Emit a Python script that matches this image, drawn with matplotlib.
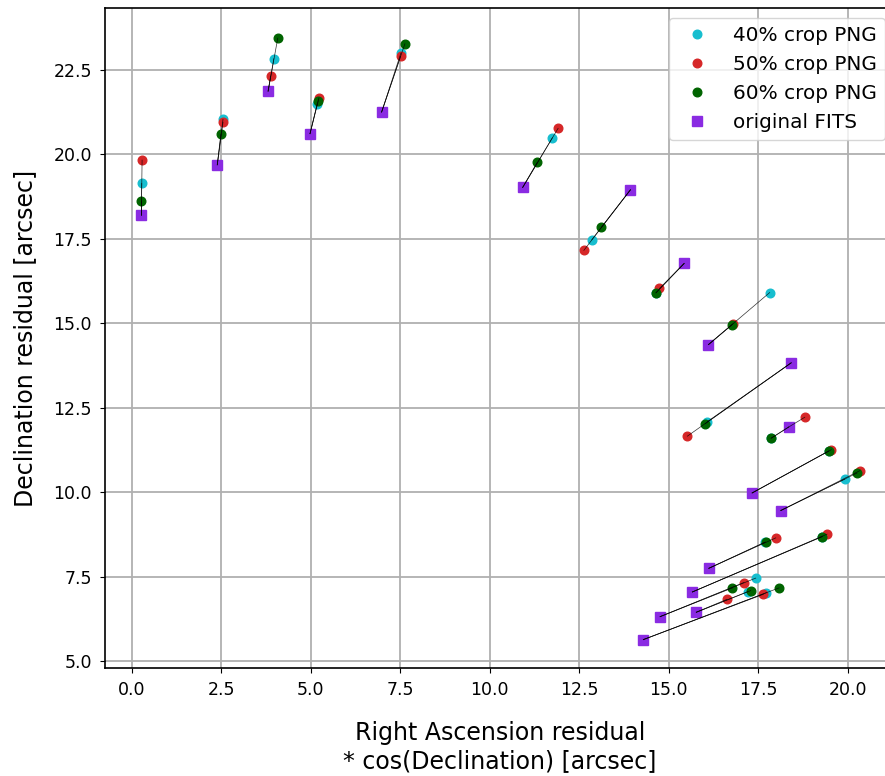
import numpy as np
import matplotlib
matplotlib.use('Agg')
import matplotlib.pyplot as plt

# residuals in arcsec, one entry per source
fits_ra = [0.27, 2.39, 3.81, 4.98, 6.98, 10.92, 13.93, 15.43, 16.11, 18.42, 18.35, 17.33, 18.13, 16.12, 15.66, 14.76, 15.77, 14.29]
fits_dec = [18.20, 19.69, 21.87, 20.61, 21.25, 19.02, 18.95, 16.77, 14.37, 13.83, 11.93, 9.98, 9.46, 7.75, 7.05, 6.32, 6.45, 5.64]

png40_ra = [0.28, 2.55, 3.97, 5.18, 7.52, 11.75, 12.85, 14.65, 17.82, 16.08, 17.86, 19.47, 19.92, 17.68, 19.29, 17.43, 17.21, 17.73]
png40_dec = [19.14, 21.04, 22.83, 21.49, 23.00, 20.49, 17.47, 15.91, 15.91, 12.09, 11.60, 11.22, 10.39, 8.52, 8.69, 7.46, 7.06, 7.03]

png50_ra = [0.29, 2.55, 3.88, 5.23, 7.51, 11.91, 12.63, 14.74, 16.80, 15.52, 18.80, 19.54, 20.34, 17.99, 19.42, 17.10, 16.62, 17.64]
png50_dec = [19.83, 20.95, 22.31, 21.67, 22.90, 20.77, 17.16, 16.03, 14.99, 11.66, 12.22, 11.26, 10.64, 8.65, 8.76, 7.33, 6.83, 6.98]

png60_ra = [0.27, 2.49, 4.08, 5.21, 7.63, 11.33, 13.12, 14.64, 16.77, 16.02, 17.86, 19.47, 20.26, 17.71, 19.29, 16.78, 17.29, 18.08]
png60_dec = [18.63, 20.60, 23.44, 21.59, 23.27, 19.77, 17.84, 15.90, 14.96, 12.03, 11.60, 11.22, 10.57, 8.53, 8.69, 7.17, 7.09, 7.17]

fig = plt.figure(figsize=(8.85, 7.76), dpi=100)
# axes runs slightly past the right edge, as in the cropped original
ax = fig.add_axes([105 / 885, 1 - 668 / 776, 790 / 885, 660 / 776])

ax.plot(png40_ra, png40_dec, 'o', color='#17becf', ms=6.2, label='40% crop PNG', zorder=3)
ax.plot(png50_ra, png50_dec, 'o', color='#d62728', ms=6.2, label='50% crop PNG', zorder=3)
ax.plot(png60_ra, png60_dec, 'o', color='darkgreen', ms=6.2, label='60% crop PNG', zorder=3)
ax.plot(fits_ra, fits_dec, 's', color='blueviolet', ms=7.2, label='original FITS', zorder=3)

for i in range(len(fits_ra)):
    for xr, yr in ((png40_ra, png40_dec), (png50_ra, png50_dec), (png60_ra, png60_dec)):
        ax.plot([fits_ra[i], xr[i]], [fits_dec[i], yr[i]], color='black', lw=0.5, alpha=0.8, zorder=4)

ax.set_xlim(-0.746, 21.32)
ax.set_ylim(4.80, 24.33)
ax.set_xticks(np.arange(0, 20.1, 2.5))
ax.set_yticks(np.arange(5, 22.6, 2.5))
ax.grid(True, color='#b0b0b0', lw=1.3)
ax.set_axisbelow(True)
ax.tick_params(labelsize=12.5, pad=6)
for s in ax.spines.values():
    s.set_linewidth(1.2)

ax.set_xlabel('Right Ascension residual\n* cos(Declination) [arcsec]', fontsize=17, labelpad=16)
ax.set_ylabel('Declination residual [arcsec]', fontsize=17, labelpad=12)
ax.legend(loc='upper right', fontsize=14.4, numpoints=1)

fig.savefig('out.png', dpi=100)
